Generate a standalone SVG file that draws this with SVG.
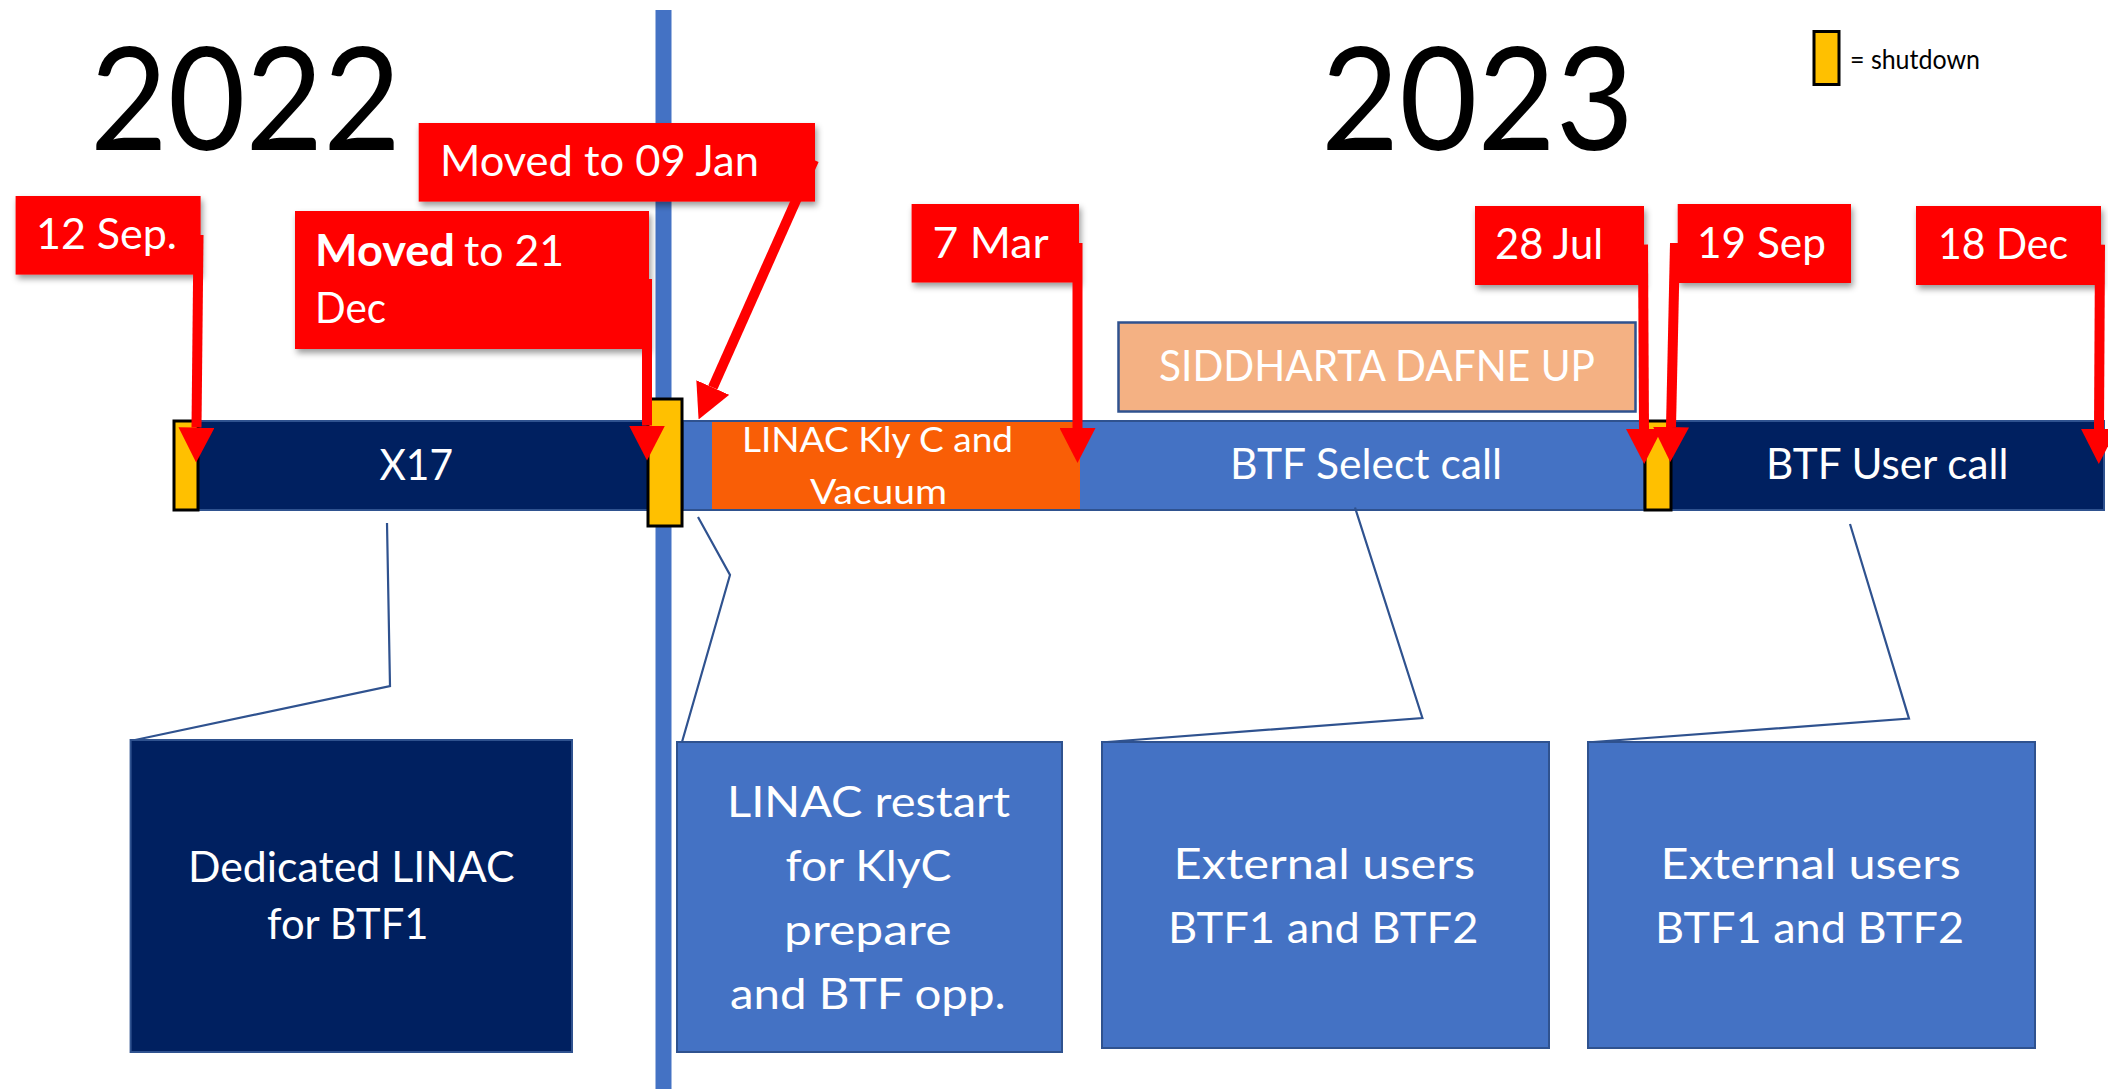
<svg xmlns="http://www.w3.org/2000/svg" width="2108" height="1089" viewBox="0 0 2108 1089">
  <style>
    text { font-family: Lato, "Open Sans", "Liberation Sans", sans-serif; fill: #fff; }
    .year { fill: #000; font-size: 143px; }
    .legend { fill: #000; font-size: 27px; }
    .lbl { font-size: 43px; }
    .bar { font-size: 42px; }
    .small { font-size: 35px; }
    .redbox { fill: #ff0000; filter: url(#shadow); }
    .shut { fill: #ffc000; stroke: #000; stroke-width: 3; }
    .navy { fill: #002060; stroke: #2f528f; stroke-width: 2; }
    .blue { fill: #4472c4; stroke: #2f528f; stroke-width: 2; }
    .callout { fill: none; stroke: #2f528f; stroke-width: 2.2; }
    .arrow { fill: none; stroke: #ff0000; stroke-width: 10; marker-end: url(#head); }
  </style>
  <defs>
    <filter id="shadow" x="-10%" y="-10%" width="130%" height="140%">
      <feDropShadow dx="2" dy="4" stdDeviation="3" flood-color="#000" flood-opacity="0.4"/>
    </filter>
    <marker id="head" viewBox="0 0 35 36" refX="0" refY="18" markerWidth="35" markerHeight="36" markerUnits="userSpaceOnUse" orient="auto">
      <path d="M0,0 L35,18 L0,36 Z" fill="#ff0000"/>
    </marker>
  </defs>

  <rect width="2108" height="1089" fill="#fff"/>

  <!-- year divider -->
  <rect id="year-divider" x="655.5" y="10" width="16" height="1079" fill="#4472c4"/>

  <!-- year headings and legend -->
  <g id="year-2022"><text class="year" x="90" y="150" textLength="311" lengthAdjust="spacingAndGlyphs">2022</text></g>
  <g id="year-2023"><text class="year" x="1321" y="150" textLength="313" lengthAdjust="spacingAndGlyphs">2023</text></g>
  <g id="legend">
    <rect class="shut" x="1814" y="31.5" width="25" height="53" stroke-width="2"/>
    <text class="legend" x="1850" y="68.6" textLength="130" lengthAdjust="spacingAndGlyphs">= shutdown</text>
  </g>

  <!-- timeline bars -->
  <g id="bar-x17">
    <rect class="navy" x="198" y="421" width="452" height="89"/>
    <text class="bar" x="379.4" y="479.6" textLength="73.6" lengthAdjust="spacingAndGlyphs">X17</text>
  </g>
  <g id="bar-btf-select">
    <rect class="blue" x="683" y="421" width="961" height="89"/>
    <text class="bar" x="1230" y="478.5" textLength="272" lengthAdjust="spacingAndGlyphs">BTF Select call</text>
  </g>
  <g id="bar-linac-kly">
    <rect x="712" y="422" width="368" height="87" fill="#f95e06"/>
    <text class="small" x="742" y="451.7" textLength="271" lengthAdjust="spacingAndGlyphs">LINAC Kly C and</text>
    <text class="small" x="810" y="504" textLength="137" lengthAdjust="spacingAndGlyphs">Vacuum</text>
  </g>
  <g id="bar-btf-user">
    <rect class="navy" x="1671" y="421" width="433" height="89"/>
    <text class="bar" x="1766" y="478.5" textLength="242.5" lengthAdjust="spacingAndGlyphs">BTF User call</text>
  </g>
  <g id="siddharta">
    <rect x="1118.5" y="322.5" width="517" height="89" fill="#f4b183" stroke="#2f528f" stroke-width="2.5"/>
    <text class="bar" x="1159" y="381" textLength="436" lengthAdjust="spacingAndGlyphs">SIDDHARTA DAFNE UP</text>
  </g>

  <!-- shutdown periods -->
  <g id="shutdown-sep"><rect class="shut" x="174" y="421" width="24" height="89" stroke-width="2.5"/></g>
  <g id="shutdown-dec"><rect class="shut" x="648" y="399" width="34" height="127"/></g>
  <g id="shutdown-aug"><rect class="shut" x="1645" y="421" width="26" height="89" stroke-width="2.5"/></g>

  <!-- date labels -->
  <g id="date-12-sep">
    <rect class="redbox" x="15.6" y="196" width="185" height="78.6"/>
    <text class="lbl" x="36" y="249" textLength="141" lengthAdjust="spacingAndGlyphs">12 Sep.</text>
  </g>
  <g id="date-21-dec">
    <rect class="redbox" x="295" y="211" width="354" height="138"/>
    <text class="lbl" x="315" y="266" font-weight="bold" textLength="140" lengthAdjust="spacingAndGlyphs">Moved</text>
    <text class="lbl" x="464" y="266" textLength="100" lengthAdjust="spacingAndGlyphs">to 21</text>
    <text class="lbl" x="315" y="323" textLength="71" lengthAdjust="spacingAndGlyphs">Dec</text>
  </g>
  <g id="date-09-jan">
    <rect class="redbox" x="418.7" y="123" width="396.3" height="78.6"/>
    <text class="lbl" x="440" y="176" textLength="319" lengthAdjust="spacingAndGlyphs">Moved to 09 Jan</text>
  </g>
  <g id="date-7-mar">
    <rect class="redbox" x="911.6" y="204" width="167.4" height="78.5"/>
    <text class="lbl" x="932.6" y="258" textLength="116" lengthAdjust="spacingAndGlyphs">7 Mar</text>
  </g>
  <g id="date-28-jul">
    <rect class="redbox" x="1475" y="206" width="169" height="79"/>
    <text class="lbl" x="1495" y="259" textLength="108" lengthAdjust="spacingAndGlyphs">28 Jul</text>
  </g>
  <g id="date-19-sep">
    <rect class="redbox" x="1677.7" y="204" width="173.3" height="79"/>
    <text class="lbl" x="1697" y="258" textLength="129" lengthAdjust="spacingAndGlyphs">19 Sep</text>
  </g>
  <g id="date-18-dec">
    <rect class="redbox" x="1916" y="206" width="185" height="79"/>
    <text class="lbl" x="1938" y="259" textLength="130" lengthAdjust="spacingAndGlyphs">18 Dec</text>
  </g>

  <!-- description boxes -->
  <g id="box-dedicated">
    <rect class="navy" x="130.6" y="740" width="441.4" height="312"/>
    <text class="bar" x="188" y="882" textLength="326.6" lengthAdjust="spacingAndGlyphs">Dedicated LINAC</text>
    <text class="bar" x="267" y="938.7" textLength="161.5" lengthAdjust="spacingAndGlyphs">for BTF1</text>
  </g>
  <g id="box-linac-restart">
    <rect class="blue" x="677" y="742" width="385" height="310"/>
    <text class="bar" x="727" y="817.4" textLength="283" lengthAdjust="spacingAndGlyphs">LINAC restart</text>
    <text class="bar" x="785.6" y="881" textLength="166" lengthAdjust="spacingAndGlyphs">for KlyC</text>
    <text class="bar" x="784" y="945" textLength="167.5" lengthAdjust="spacingAndGlyphs">prepare</text>
    <text class="bar" x="730" y="1009" textLength="275.7" lengthAdjust="spacingAndGlyphs">and BTF opp.</text>
  </g>
  <g id="box-external-1">
    <rect class="blue" x="1102" y="742" width="447" height="306"/>
    <text class="bar" x="1173.5" y="879" textLength="301.5" lengthAdjust="spacingAndGlyphs">External users</text>
    <text class="bar" x="1168" y="943" textLength="310.4" lengthAdjust="spacingAndGlyphs">BTF1 and BTF2</text>
  </g>
  <g id="box-external-2">
    <rect class="blue" x="1588" y="742" width="447" height="306"/>
    <text class="bar" x="1660.6" y="879" textLength="300.2" lengthAdjust="spacingAndGlyphs">External users</text>
    <text class="bar" x="1655" y="943" textLength="309" lengthAdjust="spacingAndGlyphs">BTF1 and BTF2</text>
  </g>

  <!-- connectors: callout leaders and date arrows -->
  <g id="connectors">
    <polyline class="callout" points="387,523 390,686 135,740"/>
    <polyline class="callout" points="698,517 730,575 682,742"/>
    <polyline class="callout" points="1355,507.5 1422.4,718 1107,742"/>
    <polyline class="callout" points="1850,524 1909,718.6 1593,742"/>

    <path class="arrow" d="M198.5,235 L196.5,427.5"/>
    <path class="arrow" d="M647,279 L647,425.6"/>
    <path class="arrow" d="M814,160 L712.8,387.5"/>
    <path class="arrow" d="M1077.5,243 L1077.5,428"/>
    <path class="arrow" d="M1643,244.6 L1644,429"/>
    <path class="arrow" d="M1675,243 L1671,427"/>
    <path class="arrow" d="M2100,244.6 L2099,429"/>
  </g>
</svg>
